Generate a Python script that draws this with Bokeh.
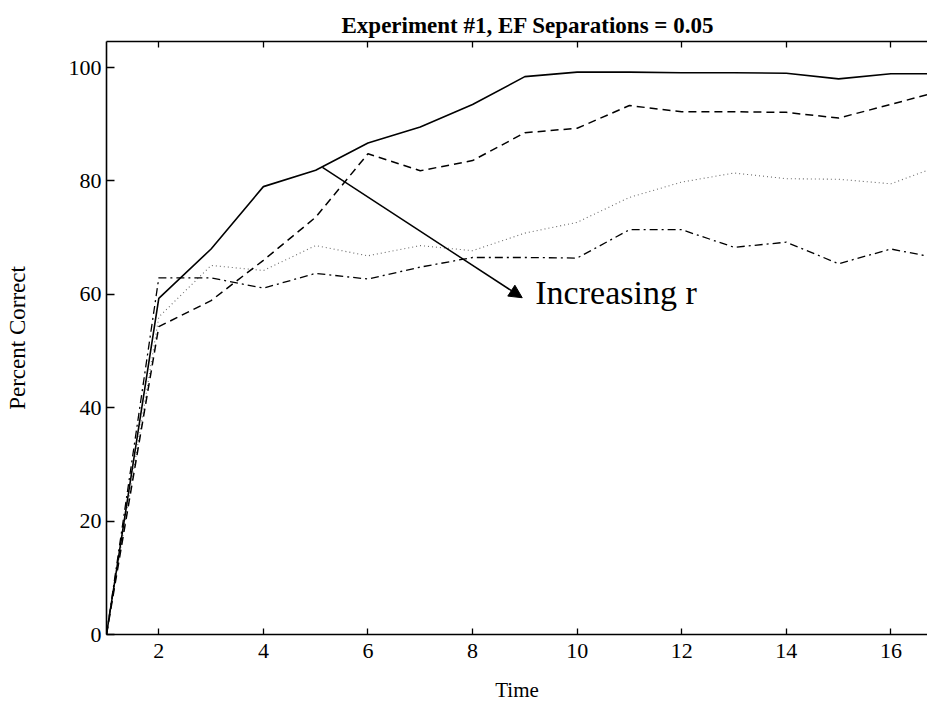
from bokeh.plotting import figure
from bokeh.models import (Range1d, LinearAxis, FixedTicker, Arrow, NormalHead, Label)
from bokeh.embed import file_html
from bokeh.resources import INLINE

# ---- data ----
time = list(range(1, 18))
r1_solid = [0, 59.3, 68.0, 79.0, 81.9, 86.7, 89.5, 93.5, 98.4, 99.2, 99.2, 99.1, 99.1, 99.0, 98.0, 98.9, 98.9]
r2_dashed = [0, 54.3, 58.9, 66.0, 73.6, 84.8, 81.8, 83.6, 88.5, 89.3, 93.3, 92.2, 92.2, 92.1, 91.1, 93.5, 96.0]
r3_dotted = [0, 56.0, 65.1, 64.2, 68.6, 66.8, 68.6, 67.7, 70.8, 72.7, 77.1, 79.8, 81.4, 80.4, 80.3, 79.5, 82.9]
r4_dashdot = [0, 62.9, 62.9, 61.1, 63.7, 62.7, 64.8, 66.5, 66.5, 66.4, 71.4, 71.4, 68.3, 69.2, 65.4, 68.0, 66.2]

x_ticks = [2, 4, 6, 8, 10, 12, 14, 16]
y_ticks = [0, 20, 40, 60, 80, 100]

title_text = "Experiment #1, EF Separations = 0.05"
x_label = "Time"
y_label = "Percent Correct"
note_text = "Increasing r"
arrow_from = (5.13, 82.4)
arrow_to = (8.95, 59.4)
note_pos = (9.2, 60.3)

SERIF = "Liberation Serif"

p = figure(width=927, height=709, output_backend="svg", toolbar_location=None,
           x_range=Range1d(1, 16.70), y_range=Range1d(0, 104.6),
           min_border_left=106, min_border_right=0, min_border_top=41, min_border_bottom=75,
           x_axis_location=None, y_axis_location=None)
p.outline_line_color = None
p.xgrid.visible = False
p.ygrid.visible = False
p.background_fill_color = "white"
p.border_fill_color = "white"

p.title.text = title_text
p.title.align = "left"
p.title.offset = 235
p.title.standoff = 3
p.title.vertical_align = "top"
p.title.text_font = SERIF
p.title.text_font_size = "23px"
p.title.text_font_style = "bold"
p.title.text_color = "black"

# axes
xb = LinearAxis(ticker=FixedTicker(ticks=x_ticks))
yl = LinearAxis(ticker=FixedTicker(ticks=y_ticks))
xt = LinearAxis(ticker=FixedTicker(ticks=x_ticks))
for ax in (xb, yl, xt):
    ax.axis_line_color = "black"
    ax.axis_line_width = 1.6
    ax.major_tick_line_color = "black"
    ax.major_tick_line_width = 1.3
    ax.major_tick_out = 0
    ax.minor_tick_out = 0
    ax.minor_tick_in = 0
    ax.major_label_text_font = SERIF
    ax.major_label_text_color = "black"
    ax.axis_label_text_font = SERIF
    ax.axis_label_text_font_style = "normal"
    ax.axis_label_text_color = "black"
# top axis: ticks only, labels not drawn
xt.major_label_text_color = None
xt.major_label_text_font_size = "1px"
xt.major_label_standoff = 0

xb.major_tick_in = 6
xt.major_tick_in = 6
yl.major_tick_in = 8
xb.major_label_text_font_size = "22px"
yl.major_label_text_font_size = "22px"
xb.major_label_standoff = 9
yl.major_label_standoff = 5
xb.axis_label = x_label
xb.axis_label_text_font_size = "21px"
xb.axis_label_standoff = 17
yl.axis_label = y_label
yl.axis_label_text_font_size = "23px"
yl.axis_label_standoff = 36
p.add_layout(xb, "below")
p.add_layout(yl, "left")
p.add_layout(xt, "above")

# series
p.line(time, r3_dotted, line_color="#6a6a6a", line_width=1.1, line_dash="1 3")
p.line(time, r4_dashdot, line_color="black", line_width=1.3, line_dash="8 4 2 4")
p.line(time, r2_dashed, line_color="black", line_width=1.5, line_dash="8 5")
p.line(time, r1_solid, line_color="black", line_width=1.6)

p.add_layout(Arrow(end=NormalHead(size=13, fill_color="black", line_color="black"),
                   x_start=arrow_from[0], y_start=arrow_from[1],
                   x_end=arrow_to[0], y_end=arrow_to[1],
                   line_color="black", line_width=1.5))
p.add_layout(Label(x=note_pos[0], y=note_pos[1], text=note_text, text_baseline="middle",
                   text_font=SERIF, text_font_size="34px", text_color="black"))

open("out.html", "w").write(file_html(p, INLINE))
